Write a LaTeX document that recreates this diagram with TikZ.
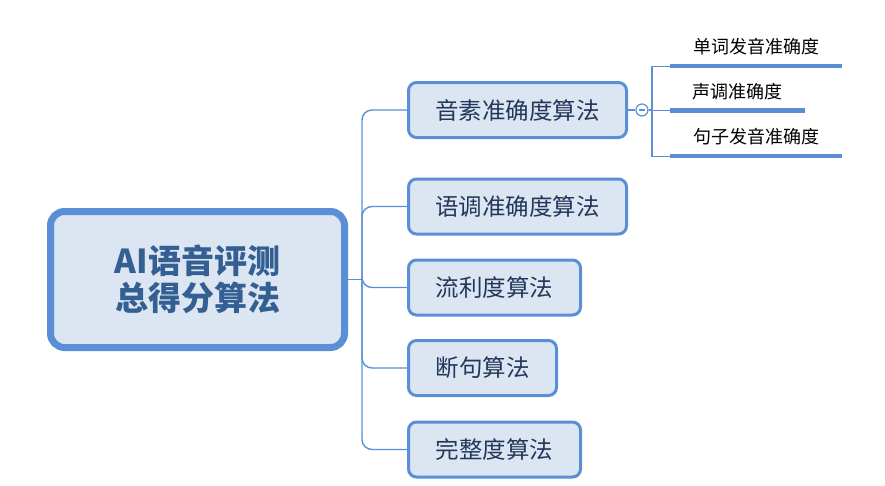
\documentclass[tikz,border=0pt]{standalone}
\usepackage{fontspec}
\setmainfont{Noto Sans CJK SC}
\usepackage{tikz}
\usetikzlibrary{positioning, calc}

\definecolor{mapblue}{HTML}{5A8FD6}
\definecolor{mapfill}{HTML}{DCE6F2}
\definecolor{roottext}{HTML}{345F93}
\definecolor{subtext}{HTML}{22385A}

\begin{document}
\begin{tikzpicture}[
  x=1pt, y=-1pt,
  rootbox/.style={draw=mapblue, line width=7pt, rounded corners=14pt, fill=mapfill, minimum width=294pt, minimum height=136pt, inner sep=0pt, align=center, text=roottext, font=\fontsize{33}{37}\selectfont\bfseries},
  topic/.style={draw=mapblue, line width=3pt, rounded corners=8pt, fill=mapfill, minimum width=#1, minimum height=55pt, inner sep=0pt, text=subtext, font=\fontsize{23.5}{27}\selectfont},
  leaf/.style={minimum width=#1, minimum height=38pt, inner sep=0pt, text=black, font=\fontsize{18}{21}\selectfont},
  link/.style={draw=mapblue, line width=1.4pt, rounded corners=10pt},
  underline/.style={draw=mapblue, line width=4.5pt},
  fold/.style={circle, draw=mapblue, line width=1.2pt, fill=white, minimum size=12pt, inner sep=0pt}
]
\useasboundingbox (0,0) rectangle (885,485);

% main topic
\node[rootbox] (root) at (197.5,279.5) {AI语音评测\\总得分算法};

% sub topics
\node[topic=218pt] (phoneme) at (517.5,110) {音素准确度算法};
\node[topic=218pt] (intonation) at (517.5,206.5) {语调准确度算法};
\node[topic=172pt] (fluency) at (494.5,287.5) {流利度算法};
\node[topic=148pt] (pause) at (482.5,368) {断句算法};
\node[topic=172pt] (complete) at (494.5,449.5) {完整度算法};

\coordinate (trunk) at (362,279.5);
\draw[link] (root.east) -- (trunk);
\foreach \t in {phoneme, intonation, fluency, pause, complete}
  \draw[link] (trunk) |- (\t.west);

% details of the first topic
\node[fold] (collapse) at (642,110) {};
\draw[mapblue, line width=1.2pt] ([xshift=-3pt]collapse.center) -- ([xshift=3pt]collapse.center);
\draw[link] (phoneme.east) -- (collapse.west);

\node[leaf=172pt] (word) at (756,47) {单词发音准确度};
\node[leaf=135pt] (tone) at (737.5,91.5) {声调准确度};
\node[leaf=172pt] (sentence) at (756,137) {句子发音准确度};

\coordinate (split) at (652,110);
\draw[link, rounded corners=0pt] (collapse.east) -- (split);
\foreach \l in {word, tone, sentence} {
  \draw[link, rounded corners=0pt] (split) |- (\l.south west);
  \draw[underline] (\l.south west) -- (\l.south east);
}

\end{tikzpicture}
\end{document}
